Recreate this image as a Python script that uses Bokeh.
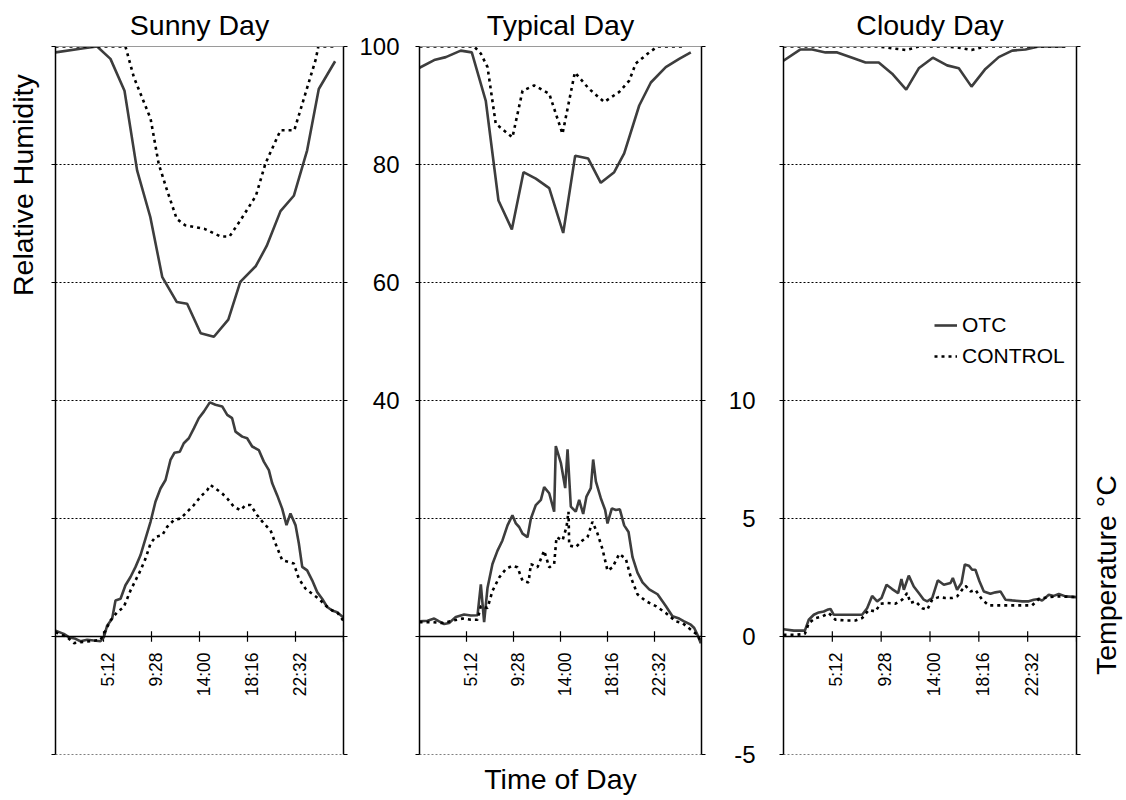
from math import pi

from bokeh.core.properties import value
from bokeh.embed import file_html
from bokeh.layouts import column, row
from bokeh.models import (FixedTicker, Grid, Legend, LegendItem, LinearAxis,
                          Range1d, Span)
from bokeh.plotting import figure
from bokeh.resources import INLINE

FONT = "Liberation Sans"
OTC_COLOR = "#3d3d3d"
CTL_COLOR = "#000000"

# shared axis definitions
TEMP_GRID = [-5, 0, 5, 10, 15, 20, 25]
RH_GRID = [-20, 0, 20, 40, 60, 80, 100]
TIME_TICKS = [4, 8, 12, 16, 20, 24]
TIME_LABEL_AT = [4, 8, 12, 16, 20]
TIME_LABELS = ["5:12", "9:28", "14:00", "18:16", "22:32"]

# ---- Sunny day -------------------------------------------------------------
sunny_rh_otc_h = [0, 2.36, 3.47, 4.58, 5.75, 6.8, 7.9, 8.9, 10.1, 10.97, 12.1,
                  13.2, 14.4, 15.4, 16.7, 17.6, 18.75, 19.86, 20.97, 21.94, 23.3]
sunny_rh_otc = [99.0, 99.7, 100, 97.9, 92.5, 79.0, 71.1, 60.9, 56.7, 56.4, 51.4,
                50.8, 53.7, 60.1, 62.8, 66.2, 72.1, 74.7, 82.4, 92.8, 97.5]
sunny_rh_ctl_h = [0, 5.83, 6.53, 7.92, 8.6, 9.3, 10.1, 10.8, 12.4, 13.75, 14.5,
                  15.4, 16.7, 17.5, 18.75, 19.9, 21.7, 21.9, 23.2]
sunny_rh_ctl = [100, 100, 94.8, 87.8, 80.1, 75.6, 70.8, 69.7, 69.1, 67.8, 67.8,
                70.5, 74.7, 80.2, 85.8, 85.8, 97.9, 100, 100]
sunny_t_otc_h = [0, 0.69, 1.11, 1.67, 2.08, 2.64, 3.19, 3.75, 4.03, 4.31, 4.72,
                 5.0, 5.42, 5.83, 6.25, 6.67, 7.08, 7.5, 7.92, 8.33, 8.75, 9.17,
                 9.58, 9.92, 10.36, 10.69, 11.11, 11.53, 11.94, 12.36, 12.86,
                 13.33, 13.89, 14.31, 14.72, 15.0, 15.56, 15.97, 16.39, 16.94,
                 17.36, 17.78, 18.06, 18.47, 18.89, 19.25, 19.58, 20.0, 20.28,
                 20.56, 20.97, 21.39, 21.81, 22.22, 22.64, 23.06, 23.47, 23.97]
sunny_t_otc = [0.25, 0.11, -0.03, -0.1, -0.2, -0.14, -0.17, -0.2, -0.03, 0.47,
               0.75, 1.53, 1.6, 2.17, 2.52, 2.95, 3.44, 4.15, 4.86, 5.71, 6.27,
               6.63, 7.48, 7.79, 7.83, 8.19, 8.4, 8.82, 9.25, 9.53, 9.92, 9.82,
               9.75, 9.39, 9.25, 8.68, 8.47, 8.4, 8.05, 7.9, 7.41, 7.05, 6.49,
               5.99, 5.42, 4.72, 5.21, 4.72, 3.94, 2.95, 2.8, 2.38, 1.88, 1.6,
               1.25, 1.1, 1.03, 0.82]
sunny_t_ctl_h = [0, 0.97, 1.53, 2.08, 2.92, 3.75, 4.17, 4.58, 5.14, 5.69, 6.25,
                 6.67, 7.08, 7.5, 7.92, 8.33, 8.89, 9.31, 9.86, 10.42, 10.97,
                 11.53, 12.08, 12.64, 12.92, 13.33, 13.89, 14.31, 14.86, 15.42,
                 15.83, 16.25, 16.81, 17.36, 17.92, 18.33, 18.89, 19.44, 19.86,
                 20.28, 20.83, 21.39, 21.94, 22.5, 23.06, 23.47, 23.97]
sunny_t_ctl = [0.18, -0.03, -0.28, -0.24, -0.2, -0.14, 0.25, 0.68, 1.03, 1.25,
               1.95, 2.38, 2.8, 3.3, 3.94, 4.22, 4.29, 4.65, 4.93, 5.0, 5.28,
               5.57, 5.92, 6.2, 6.42, 6.27, 6.06, 5.85, 5.5, 5.35, 5.57, 5.57,
               5.14, 4.79, 4.5, 3.94, 3.23, 3.16, 3.09, 2.45, 2.03, 1.81, 1.6,
               1.32, 1.1, 1.03, 0.68]

# ---- Typical day -----------------------------------------------------------
typ_rh_otc_h = [0, 1.25, 2.24, 3.51, 4.45, 5.64, 6.72, 7.86, 8.85, 9.9, 11.04,
                12.23, 13.25, 14.36, 15.43, 16.57, 17.42, 18.7, 19.69, 20.96,
                22.1, 23.09]
typ_rh_otc = [96.4, 97.7, 98.2, 99.3, 99.0, 90.8, 73.9, 69.0, 78.7, 77.6, 76.0,
              68.4, 81.5, 81.0, 76.9, 78.7, 81.9, 90.0, 93.9, 96.5, 97.9, 99.0]
typ_rh_ctl_h = [0, 4.65, 5.22, 5.79, 6.49, 7.91, 8.77, 9.76, 11.04, 12.17,
                13.22, 14.44, 15.72, 17.0, 17.85, 18.4, 19.55, 20.26, 22.66]
typ_rh_ctl = [100, 100, 98.8, 96.5, 86.9, 84.6, 92.5, 93.4, 92.0, 85.2, 95.6,
              92.8, 90.6, 92.3, 94.2, 97.1, 99.0, 100, 100]
typ_t_otc_h = [0, 0.68, 1.25, 1.67, 2.1, 2.52, 3.09, 3.8, 4.37, 4.94, 5.22, 5.5,
               5.79, 6.21, 6.64, 7.06, 7.49, 7.91, 8.2, 8.48, 8.77, 9.19, 9.48,
               9.9, 10.33, 10.61, 11.04, 11.46, 11.6, 12.03, 12.4, 12.6, 12.88,
               13.3, 13.59, 13.93, 14.21, 14.58, 14.78, 15.01, 15.43, 15.8,
               16.0, 16.37, 16.71, 17.05, 17.42, 17.79, 18.13, 18.55, 18.98,
               19.55, 20.26, 20.96, 21.53, 22.1, 22.52, 23.09, 23.38, 23.66,
               23.94]
typ_t_otc = [0.64, 0.67, 0.76, 0.64, 0.53, 0.57, 0.83, 0.93, 0.89, 0.9, 2.21,
             0.61, 2.07, 3.07, 3.64, 4.07, 4.71, 5.14, 4.79, 4.64, 4.36, 4.21,
             5.0, 5.57, 5.79, 6.33, 6.07, 5.29, 8.07, 7.36, 6.29, 7.93, 5.5,
             5.29, 5.79, 5.19, 5.93, 6.29, 7.5, 6.57, 5.86, 5.36, 4.79, 5.43,
             5.36, 5.39, 4.71, 4.43, 3.36, 2.71, 2.29, 2.0, 1.79, 1.29, 0.86,
             0.76, 0.64, 0.5, 0.36, 0.07, -0.29]
typ_t_ctl_h = [0, 1.11, 1.96, 2.81, 3.66, 4.37, 4.94, 5.22, 5.79, 6.21, 6.78,
               7.35, 7.91, 8.34, 8.77, 9.28, 9.48, 10.04, 10.61, 11.04, 11.46,
               11.66, 12.17, 12.51, 12.68, 12.74, 13.3, 13.87, 14.3, 14.72,
               15.15, 15.57, 16.0, 16.43, 17.0, 17.56, 17.99, 18.55, 19.26,
               20.11, 20.96, 21.82, 22.38, 23.09, 23.66, 23.86]
typ_t_ctl = [0.61, 0.61, 0.57, 0.67, 0.76, 0.71, 0.71, 1.29, 1.21, 1.93, 2.5,
             2.86, 3.0, 2.93, 2.36, 2.29, 3.07, 2.93, 3.64, 2.93, 3.07, 4.21,
             4.07, 4.64, 5.29, 3.86, 3.79, 4.07, 4.21, 4.86, 4.36, 3.71, 2.79,
             2.93, 3.5, 3.29, 2.5, 1.79, 1.5, 1.29, 1.0, 0.64, 0.57, 0.29, 0.07,
             -0.14]

# ---- Cloudy day ------------------------------------------------------------
cld_rh_h = [0, 1.39, 2.35, 3.44, 4.4, 5.63, 6.72, 7.8, 8.9, 10.05, 11.08, 12.23,
            13.4, 14.36, 15.4, 16.54, 17.63, 18.73, 19.82, 20.9, 22.0, 23.1]
cld_rh_otc = [97.6, 99.5, 99.5, 99.0, 99.0, 98.1, 97.3, 97.3, 95.4, 92.7, 96.3,
              98.1, 96.8, 96.3, 93.2, 96.2, 98.2, 99.3, 99.5, 100, 100, 100]
cld_rh_ctl = [100, 100, 100, 100, 100, 100, 100, 100, 99.7, 99.4, 100, 100,
              100, 99.8, 99.4, 100, 100, 100, 100, 100, 100, 100]
cld_t_otc_h = [0, 0.85, 1.39, 1.75, 2.07, 2.48, 2.89, 3.3, 3.58, 3.85, 4.12,
               4.8, 5.62, 6.44, 6.85, 7.26, 7.67, 8.03, 8.44, 8.9, 9.39, 9.66,
               9.86, 10.26, 10.67, 11.08, 11.49, 11.77, 12.18, 12.64, 13.13,
               13.68, 13.87, 14.22, 14.58, 14.85, 15.18, 15.45, 15.72, 16.05,
               16.41, 16.95, 17.36, 17.77, 18.18, 18.73, 19.55, 20.09, 20.5,
               20.91, 21.18, 21.73, 22.14, 22.55, 23.1, 24.0]
cld_t_otc = [0.31, 0.25, 0.25, 0.25, 0.71, 0.92, 1.02, 1.06, 1.13, 1.17, 0.92,
             0.92, 0.92, 0.92, 1.2, 1.72, 1.49, 1.63, 2.19, 2.01, 1.84, 2.43,
             1.98, 2.58, 2.12, 1.84, 1.56, 1.49, 1.63, 2.38, 2.19, 2.27, 2.48,
             1.98, 2.27, 3.05, 3.0, 2.83, 2.83, 2.34, 1.91, 1.81, 1.87, 1.91,
             1.56, 1.53, 1.49, 1.49, 1.56, 1.59, 1.52, 1.77, 1.72, 1.8, 1.7,
             1.67]
cld_t_ctl_h = [0, 0.98, 1.75, 2.07, 2.62, 3.17, 3.71, 4.26, 5.08, 5.9, 6.44,
               6.99, 7.53, 7.94, 8.49, 9.17, 9.72, 10.13, 10.4, 10.81, 11.36,
               11.77, 12.18, 12.72, 13.27, 13.81, 14.22, 14.63, 14.91, 15.32,
               15.72, 16.27, 16.82, 17.64, 18.45, 19.55, 20.37, 20.91, 21.73,
               22.55, 24.0]
cld_t_ctl = [0.07, 0.07, 0.11, 0.57, 0.78, 0.85, 0.99, 0.71, 0.68, 0.68, 0.78,
             1.13, 1.06, 1.39, 1.42, 1.39, 1.56, 1.84, 1.42, 1.49, 1.2, 1.13,
             1.56, 1.67, 1.63, 1.63, 1.7, 1.98, 2.15, 1.91, 1.98, 1.56, 1.32,
             1.32, 1.32, 1.32, 1.32, 1.59, 1.67, 1.7, 1.67]

FRAME_H = 708
TOP = 46
BOTTOM = 46
HEAD_SIZE = "28.5px"


def border_axis(ticks, range_name="default", shown=(), standoff=4):
    """Panel edge with outward ticks; only the values in `shown` get a label."""
    overrides = {t: ("" if t not in shown else str(t)) for t in ticks}
    return LinearAxis(
        ticker=FixedTicker(ticks=ticks),
        y_range_name=range_name,
        axis_line_color="black", axis_line_width=1.5,
        major_tick_line_color="black", major_tick_line_width=1.2,
        major_tick_out=4, major_tick_in=0,
        minor_tick_line_color=None,
        major_label_standoff=standoff,
        major_label_text_font=FONT,
        major_label_text_font_size="24px",
        major_label_text_color="black",
        major_label_overrides=overrides,
    )


def edge_line(color, dash):
    """Plain horizontal edge of a panel (top and bottom grid level)."""
    return LinearAxis(
        ticker=FixedTicker(ticks=[]),
        axis_line_color=color, axis_line_width=1, axis_line_dash=dash,
        major_tick_line_color=None, minor_tick_line_color=None,
        major_tick_out=0, major_tick_in=0, major_label_standoff=0,
        major_label_text_font_size="0px",
    )


def bare_figure(frame_w, frame_h, x_range, y_range, left=0, right=0, top=0,
                bottom=0, title=None):
    p = figure(
        title=title,
        frame_width=frame_w, frame_height=frame_h,
        min_border_left=left, min_border_right=right,
        min_border_top=top, min_border_bottom=bottom,
        x_range=x_range, y_range=y_range,
        x_axis_type=None, y_axis_type=None,
        toolbar_location=None, output_backend="svg",
        background_fill_color="white", border_fill_color="white",
    )
    p.outline_line_color = None
    return p


def side_text(p, x, y, text, angle=0.0):
    p.text(x=[x], y=[y], text=[text], angle=angle, text_align="center",
           text_baseline="middle", text_font=value(FONT),
           text_font_size=HEAD_SIZE, text_color="black")


def make_panel(title, frame_w, border_l, border_r, series, bottom=BOTTOM):
    p = bare_figure(frame_w, FRAME_H, Range1d(0, 24), Range1d(-5, 25),
                    left=border_l, right=border_r, top=TOP, bottom=bottom,
                    title=title)
    p.extra_y_ranges = {"rh": Range1d(-20, 100)}
    p.title.align = "center"
    p.title.text_font = FONT
    p.title.text_font_size = HEAD_SIZE
    p.title.text_font_style = "normal"
    p.title.text_color = "black"
    p.title.standoff = 12

    p.add_layout(Grid(dimension=1, ticker=FixedTicker(ticks=TEMP_GRID),
                      grid_line_color="black", grid_line_dash="2 2",
                      grid_line_width=1))
    p.add_layout(edge_line("#9a9a9a", "solid"), "above")
    p.add_layout(edge_line("#808080", "2 2"), "below")

    # time axis drawn across the 0 degC line
    p.add_layout(Span(location=0, dimension="width", line_color="black",
                      line_width=1.5))
    p.segment(x0=TIME_TICKS, x1=TIME_TICKS, y0=-0.22, y1=0.22,
              line_color="black", line_width=1.2)
    p.text(x=TIME_LABEL_AT, y=[0] * len(TIME_LABEL_AT), text=TIME_LABELS,
           angle=pi / 2, text_align="right", text_baseline="middle",
           x_offset=4, y_offset=16, text_font=value(FONT),
           text_font_size="17.5px", text_color="black")

    (rh_oh, rh_o), (rh_ch, rh_c), (t_oh, t_o), (t_ch, t_c) = series
    otc = dict(line_color=OTC_COLOR, line_width=2.6)
    ctl = dict(line_color=CTL_COLOR, line_width=2.6, line_dash="3 4")
    r_otc = p.line(rh_oh, rh_o, y_range_name="rh", **otc)
    r_ctl = p.line(rh_ch, rh_c, y_range_name="rh", **ctl)
    p.line(t_oh, t_o, **otc)
    p.line(t_ch, t_c, **ctl)
    return p, r_otc, r_ctl


p1, _, _ = make_panel("Sunny Day", 288, 10, 12, [
    (sunny_rh_otc_h, sunny_rh_otc), (sunny_rh_ctl_h, sunny_rh_ctl),
    (sunny_t_otc_h, sunny_t_otc), (sunny_t_ctl_h, sunny_t_ctl)])
p1.add_layout(border_axis(TEMP_GRID), "left")
p1.add_layout(border_axis(TEMP_GRID), "right")

p2, _, _ = make_panel("Typical Day", 282, 64, 10, [
    (typ_rh_otc_h, typ_rh_otc), (typ_rh_ctl_h, typ_rh_ctl),
    (typ_t_otc_h, typ_t_otc), (typ_t_ctl_h, typ_t_ctl)], bottom=4)
p2.add_layout(border_axis(RH_GRID, "rh", shown=(40, 60, 80, 100), standoff=16),
              "left")
p2.add_layout(border_axis(TEMP_GRID), "right")

p3, r_otc, r_ctl = make_panel("Cloudy Day", 293, 72, 10, [
    (cld_rh_h, cld_rh_otc), (cld_rh_h, cld_rh_ctl),
    (cld_t_otc_h, cld_t_otc), (cld_t_ctl_h, cld_t_ctl)])
p3.add_layout(border_axis(TEMP_GRID, shown=(-5, 0, 5, 10), standoff=24), "left")
p3.add_layout(border_axis(TEMP_GRID), "right")

legend = Legend(
    items=[LegendItem(label="OTC", renderers=[r_otc]),
           LegendItem(label="CONTROL", renderers=[r_ctl])],
    location=(151, 386), orientation="vertical",
    border_line_color=None, background_fill_alpha=0,
    padding=0, margin=0, spacing=7,
    glyph_width=23, glyph_height=24, label_height=24, label_standoff=5,
    label_text_font=FONT, label_text_font_size="21px", label_text_color="black",
)
p3.add_layout(legend)

# axis titles, each in a strip that shares the neighbouring panel's scale
rh_strip = bare_figure(45, FRAME_H, Range1d(0, 45), p1.extra_y_ranges["rh"],
                       top=TOP, bottom=BOTTOM)
side_text(rh_strip, 22, 76.5, "Relative Humidity", angle=pi / 2)

temp_strip = bare_figure(40, FRAME_H, Range1d(0, 40), p3.y_range,
                         top=TOP, bottom=BOTTOM)
side_text(temp_strip, 19, 2.6, "Temperature °C", angle=pi / 2)

time_strip = bare_figure(282, 42, p2.x_range, Range1d(0, 42), left=64,
                         right=10)
side_text(time_strip, 12, 22, "Time of Day")

layout = row(rh_strip, p1, column(p2, time_strip), p3, temp_strip)

with open("out.html", "w") as f:
    f.write(file_html(layout, INLINE))
